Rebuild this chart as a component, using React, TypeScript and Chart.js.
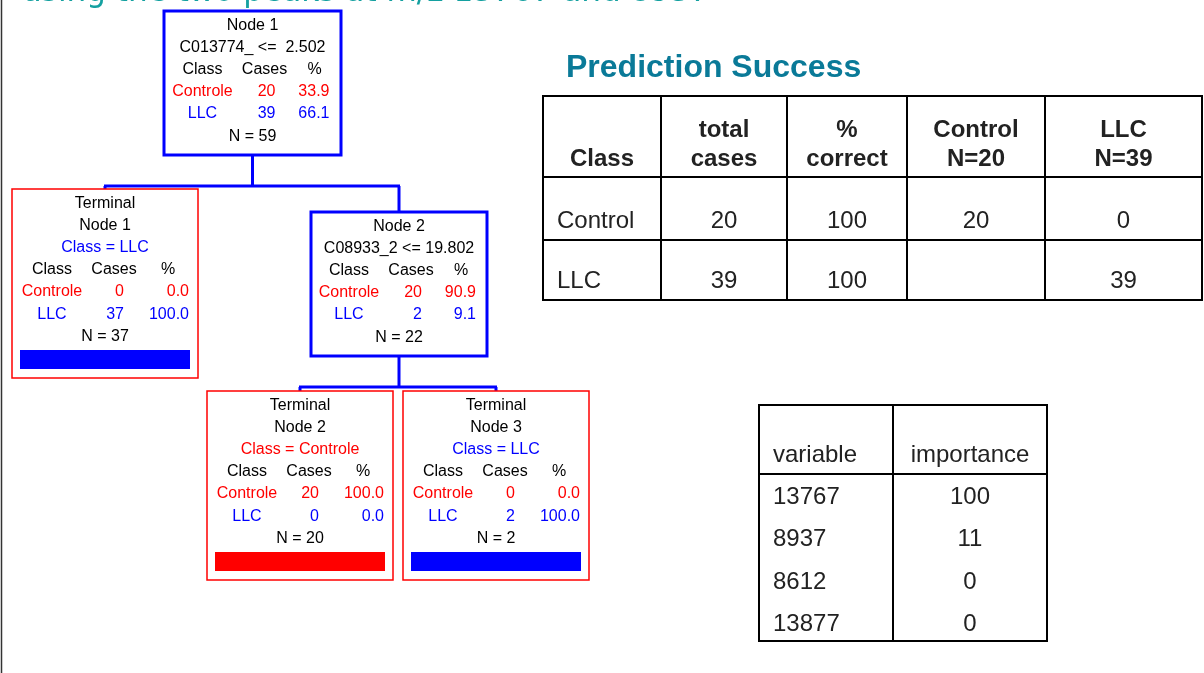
import React, { useEffect, useRef } from "react";
import { Chart, registerables } from "chart.js";

Chart.register(...registerables);

// ---------------- data ----------------
const headline = "using the two peaks at m/z 13767 and 8937";

const nodeTitles = ["Node 1", "Node 2", "Terminal Node 1", "Terminal Node 2", "Terminal Node 3"];
const nodeIsTerminal = [false, false, true, true, true];
const nodeSplits = ["C013774_ <=  2.502", "C08933_2 <= 19.802", "", "", ""];
const nodeParents = [-1, 0, 0, 1, 1];
const nodePredicted = ["", "", "LLC", "Controle", "LLC"];
const classNames = ["Controle", "LLC"];
const controleCases = [20, 20, 0, 20, 0];
const llcCases = [39, 2, 37, 0, 2];
const controlePct = [33.9, 90.9, 0.0, 100.0, 0.0];
const llcPct = [66.1, 9.1, 100.0, 0.0, 100.0];
const nodeN = [59, 22, 37, 20, 2];
const nodeHeader = ["Class", "Cases", "%"];

const successTitle = "Prediction Success";
const successHeaders = [["Class"], ["total", "cases"], ["%", "correct"], ["Control", "N=20"], ["LLC", "N=39"]];
const successClasses = ["Control", "LLC"];
const successTotal = [20, 39];
const successPctCorrect = [100, 100];
const predictedControl: (number | null)[] = [20, null];
const predictedLLC: (number | null)[] = [0, 39];

const importanceHeaders = ["variable", "importance"];
const importanceVariables = ["13767", "8937", "8612", "13877"];
const importanceValues = [100, 11, 0, 0];

// ---------------- layout (slide units) ----------------
const W = 1204;
const H = 673;
const NODE_BOXES = [
  [164, 11, 341, 155],
  [311, 212, 487, 356],
  [12, 189, 198, 378],
  [207, 391, 393, 580],
  [403, 391, 589, 580],
];
const SUCCESS_COLS = [543, 661, 787, 907, 1045, 1202];
const SUCCESS_ROWS = [96, 177, 240, 300];
const IMPORTANCE_COLS = [759, 893, 1047];
const IMPORTANCE_ROWS = [405, 474, 641];

const RED = "#FF0000";
const BLUE = "#0000FF";
const INK = "#222222";
const NODE_FONT = "16px 'Liberation Sans', Arial, sans-serif";
const TABLE_FONT = "24px 'Liberation Sans', Arial, sans-serif";
const TABLE_BOLD = "bold 24px 'Liberation Sans', Arial, sans-serif";

const diagramPlugin = {
  id: "diagram",
  beforeDraw(chart: any) {
    const ctx = chart.ctx as CanvasRenderingContext2D;
    ctx.save();
    ctx.fillStyle = "#ffffff";
    ctx.fillRect(0, 0, chart.width, chart.height);
    ctx.restore();
  },
  afterDraw(chart: any) {
    const ctx = chart.ctx as CanvasRenderingContext2D;
    const xs = chart.scales.x;
    const ys = chart.scales.y;
    const X = (v: number) => xs.getPixelForValue(v);
    const Y = (v: number) => ys.getPixelForValue(v);

    const text = (s: string, x: number, y: number, align: CanvasTextAlign, color: string, font: string) => {
      ctx.font = font;
      ctx.fillStyle = color;
      ctx.textAlign = align;
      ctx.textBaseline = "alphabetic";
      ctx.fillText(s, X(x), Y(y));
    };
    const line = (x1: number, y1: number, x2: number, y2: number, color: string, w: number) => {
      ctx.strokeStyle = color;
      ctx.lineWidth = w;
      ctx.beginPath();
      ctx.moveTo(X(x1), Y(y1));
      ctx.lineTo(X(x2), Y(y2));
      ctx.stroke();
    };

    ctx.save();

    // slide left border
    line(1.5, 0, 1.5, H, "#333333", 1.5);

    // headline (cut off at top of the slide)
    {
      ctx.font = "28px 'DejaVu Sans', sans-serif";
      const w = ctx.measureText(headline).width;
      const size = (28 * 688) / w;
      text(headline, 22, 0.5, "left", "#14A0A0", `${size}px 'DejaVu Sans', sans-serif`);
    }

    // connectors
    const parents = Array.from(new Set(nodeParents.filter((p) => p >= 0)));
    parents.forEach((p) => {
      const pb = NODE_BOXES[p];
      const pcx = (pb[0] + pb[2]) / 2;
      const busY = pb[3] + 31;
      const kids = nodeParents.map((q, i) => (q === p ? i : -1)).filter((i) => i >= 0);
      const centers = kids.map((k) => (NODE_BOXES[k][0] + NODE_BOXES[k][2]) / 2);
      line(pcx, pb[3], pcx, busY, BLUE, 3);
      line(Math.min(...centers) - 1, busY, Math.max(...centers) + 1, busY, BLUE, 3);
      kids.forEach((k, j) => {
        const top = NODE_BOXES[k][1];
        if (top > busY + 2) line(centers[j], busY, centers[j], top, BLUE, 3);
      });
    });

    // nodes
    nodeTitles.forEach((title, i) => {
      const [x1, y1, x2, y2] = NODE_BOXES[i];
      const cx = (x1 + x2) / 2;
      const term = nodeIsTerminal[i];
      ctx.strokeStyle = term ? RED : BLUE;
      ctx.lineWidth = term ? 1.5 : 3;
      ctx.strokeRect(X(x1), Y(y1), X(x2) - X(x1), Y(y2) - Y(y1));

      const lines: { kind: string; t?: string; color?: string }[] = [];
      if (term) {
        const parts = title.split(" Node ");
        lines.push({ kind: "c", t: parts[0], color: "#000" });
        lines.push({ kind: "c", t: "Node " + parts[1], color: "#000" });
        lines.push({
          kind: "c",
          t: `Class = ${nodePredicted[i]}`,
          color: nodePredicted[i] === classNames[0] ? RED : BLUE,
        });
      } else {
        lines.push({ kind: "c", t: title, color: "#000" });
        lines.push({ kind: "c", t: nodeSplits[i], color: "#000" });
      }
      lines.push({ kind: "hdr" });
      lines.push({ kind: "r0" });
      lines.push({ kind: "r1" });
      lines.push({ kind: "c", t: `N = ${nodeN[i]}`, color: "#000" });

      const cls = term ? cx - 53 : cx - 50;
      const casesR = term ? cx + 19 : cx + 23;
      const pctR = term ? cx + 84 : cx + 77;
      const hCases = term ? cx + 9 : cx + 12;
      const hPct = term ? cx + 63 : cx + 62;

      lines.forEach((ln, k) => {
        const by = y1 + 18.5 + k * 22.2;
        if (ln.kind === "c") {
          text(ln.t!, cx, by, "center", ln.color!, NODE_FONT);
        } else if (ln.kind === "hdr") {
          text(nodeHeader[0], cls, by, "center", "#000", NODE_FONT);
          text(nodeHeader[1], hCases, by, "center", "#000", NODE_FONT);
          text(nodeHeader[2], hPct, by, "center", "#000", NODE_FONT);
        } else {
          const r = ln.kind === "r0" ? 0 : 1;
          const color = r === 0 ? RED : BLUE;
          const cases = r === 0 ? controleCases[i] : llcCases[i];
          const pct = r === 0 ? controlePct[i] : llcPct[i];
          text(classNames[r], cls, by, "center", color, NODE_FONT);
          text(String(cases), casesR, by, "right", color, NODE_FONT);
          text(pct.toFixed(1), pctR, by, "right", color, NODE_FONT);
        }
      });

      if (term) {
        const bx1 = x1 + 8;
        const bx2 = x2 - 8;
        const bw = bx2 - bx1;
        const bt = y1 + 161;
        const bb = y1 + 180;
        const redW = (bw * controlePct[i]) / 100;
        const blueW = (bw * llcPct[i]) / 100;
        if (redW > 0) {
          ctx.fillStyle = RED;
          ctx.fillRect(X(bx1), Y(bt), X(bx1 + redW) - X(bx1), Y(bb) - Y(bt));
        }
        if (blueW > 0) {
          ctx.fillStyle = BLUE;
          ctx.fillRect(X(bx1 + redW), Y(bt), X(bx1 + redW + blueW) - X(bx1 + redW), Y(bb) - Y(bt));
        }
      }
    });

    // Prediction Success title
    text(successTitle, 566, 77, "left", "#0A7A98", "bold 32px 'Liberation Sans', Arial, sans-serif");

    // Prediction Success table grid
    SUCCESS_COLS.forEach((c) => line(c, SUCCESS_ROWS[0] - 1, c, SUCCESS_ROWS[SUCCESS_ROWS.length - 1] + 1, "#000", 2));
    SUCCESS_ROWS.forEach((r) => line(SUCCESS_COLS[0], r, SUCCESS_COLS[SUCCESS_COLS.length - 1], r, "#000", 2));

    const colCenter = (cols: number[], j: number) => (cols[j] + cols[j + 1]) / 2;
    successHeaders.forEach((hdr, j) => {
      const cx = colCenter(SUCCESS_COLS, j);
      const base = SUCCESS_ROWS[1] - 11;
      hdr.forEach((t, k) => {
        const by = base - (hdr.length - 1 - k) * 29;
        text(t, cx, by, "center", INK, TABLE_BOLD);
      });
    });
    successClasses.forEach((cls, r) => {
      const by = SUCCESS_ROWS[r + 2] - 12;
      text(cls, SUCCESS_COLS[0] + 14, by, "left", INK, TABLE_FONT);
      const vals = [successTotal[r], successPctCorrect[r], predictedControl[r], predictedLLC[r]];
      vals.forEach((v, j) => {
        if (v === null || v === undefined) return;
        text(String(v), colCenter(SUCCESS_COLS, j + 1), by, "center", INK, TABLE_FONT);
      });
    });

    // Importance table
    IMPORTANCE_COLS.forEach((c) => line(c, IMPORTANCE_ROWS[0] - 1, c, IMPORTANCE_ROWS[2] + 1, "#000", 2));
    IMPORTANCE_ROWS.forEach((r) => line(IMPORTANCE_COLS[0], r, IMPORTANCE_COLS[2], r, "#000", 2));
    text(importanceHeaders[0], IMPORTANCE_COLS[0] + 14, IMPORTANCE_ROWS[1] - 12, "left", INK, TABLE_FONT);
    text(importanceHeaders[1], colCenter(IMPORTANCE_COLS, 1), IMPORTANCE_ROWS[1] - 12, "center", INK, TABLE_FONT);
    importanceVariables.forEach((v, r) => {
      const by = IMPORTANCE_ROWS[1] + 30 + r * 42.3;
      text(v, IMPORTANCE_COLS[0] + 14, by, "left", INK, TABLE_FONT);
      text(String(importanceValues[r]), colCenter(IMPORTANCE_COLS, 1), by, "center", INK, TABLE_FONT);
    });

    ctx.restore();
  },
};

export default function App() {
  const ref = useRef<HTMLCanvasElement>(null);
  useEffect(() => {
    const chart = new Chart(ref.current as HTMLCanvasElement, {
      type: "scatter",
      data: { datasets: [] },
      options: {
        animation: false,
        responsive: false,
        maintainAspectRatio: false,
        devicePixelRatio: 1,
        events: [],
        layout: { padding: 0 },
        plugins: {
          legend: { display: false },
          tooltip: { enabled: false },
          title: { display: false },
        },
        scales: {
          x: { type: "linear", min: 0, max: W, display: false },
          y: { type: "linear", min: 0, max: H, reverse: true, display: false },
        },
      },
      plugins: [diagramPlugin],
    } as any);
    return () => chart.destroy();
  }, []);
  return (
    <div style={{ position: "fixed", left: 0, top: 0, width: W, height: H, background: "#fff" }}>
      <canvas ref={ref} width={W} height={H} style={{ display: "block", width: W, height: H }} />
    </div>
  );
}
